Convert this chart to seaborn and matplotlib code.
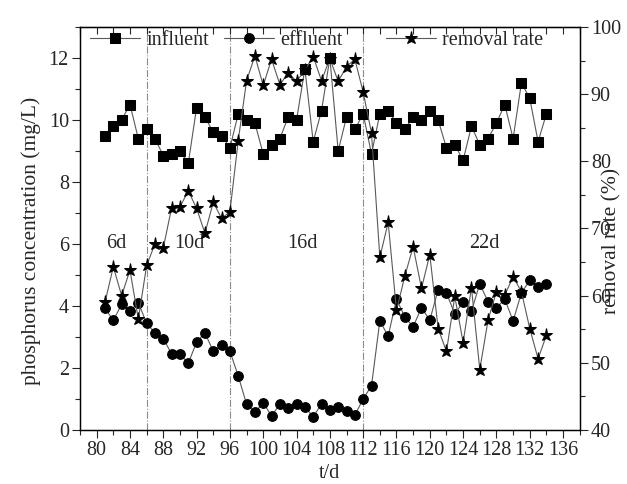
import numpy as np
import pandas as pd
import seaborn as sns
import matplotlib.pyplot as plt
from matplotlib.ticker import MultipleLocator

sns.set_style("ticks")
plt.rcParams['font.family'] = ['Liberation Serif', 'DejaVu Serif']
plt.rcParams['mathtext.fontset'] = 'stix'

# data, one point per day
day = list(range(81, 135))
influent = [9.5, 9.8, 10.0, 10.5, 9.4, 9.7, 9.4, 8.85, 8.9, 9.0,
            8.6, 10.4, 10.1, 9.6, 9.5, 9.1, 10.2, 10.0, 9.9, 8.9,
            9.2, 9.4, 10.1, 10.0, 11.65, 9.3, 10.3, 12.0, 9.0, 10.1,
            9.7, 10.2, 8.9, 10.2, 10.3, 9.9, 9.7, 10.1, 10.0, 10.3,
            10.0, 9.1, 9.2, 8.7, 9.8, 9.2, 9.4, 9.9, 10.5, 9.4,
            11.2, 10.7, 9.3, 10.2]
effluent = [3.92, 3.54, 4.05, 3.83, 4.11, 3.44, 3.13, 2.95, 2.45, 2.45,
            2.15, 2.84, 3.13, 2.54, 2.74, 2.54, 1.74, 0.83, 0.57, 0.88,
            0.45, 0.84, 0.72, 0.84, 0.74, 0.43, 0.84, 0.64, 0.75, 0.60,
            0.48, 1.00, 1.43, 3.52, 3.03, 4.22, 3.65, 3.33, 3.95, 3.54,
            4.53, 4.42, 3.74, 4.13, 3.83, 4.72, 4.13, 3.94, 4.22, 3.52,
            4.42, 4.83, 4.62, 4.72]
removal = [59.0, 64.3, 60.0, 63.8, 56.5, 64.5, 67.7, 67.1, 73.1, 73.2,
           75.6, 73.0, 69.3, 73.9, 71.5, 72.5, 83.1, 92.0, 95.7, 91.3,
           95.2, 91.4, 93.2, 91.9, 93.6, 95.6, 92.0, 95.3, 91.9, 94.1,
           95.2, 90.3, 84.2, 65.7, 70.9, 57.8, 62.9, 67.3, 61.1, 66.1,
           55.1, 51.7, 59.9, 53.0, 61.2, 49.0, 56.4, 60.6, 60.1, 62.8,
           60.6, 55.1, 50.6, 54.1]

phase_bounds = [86, 96, 112]
phase_labels = ["6d", "10d", "16d", "22d"]
phase_label_x = [82.4, 91.1, 104.7, 126.6]

df = pd.DataFrame({"day": day, "influent": influent,
                   "effluent": effluent, "removal": removal})

fs = 14.5
lfs = 15.5
fig = plt.figure(figsize=(6.27, 4.84), dpi=100)
ax = fig.add_axes([0.1276, 0.1116, 0.797, 0.8326])
ax2 = ax.twinx()

line_kw = dict(color='0.35', linewidth=0.8, markerfacecolor='black',
               markeredgecolor='black')
sns.lineplot(data=df, x="day", y="influent", marker='s', markersize=6.5,
             ax=ax, label="influent", **line_kw)
sns.lineplot(data=df, x="day", y="effluent", marker='o', markersize=7,
             ax=ax, label="effluent", **line_kw)
sns.lineplot(data=df, x="day", y="removal", marker='*', markersize=9.5,
             ax=ax2, label="removal rate", **line_kw)

for xb in phase_bounds:
    ax.axvline(xb, color='0.55', linestyle='-.', linewidth=0.8, zorder=0)

for lab, xl in zip(phase_labels, phase_label_x):
    ax.text(xl, 6.0, lab, fontsize=fs, ha='center', va='center')

ax.set_xlim(78, 138)
ax.set_ylim(0, 13)
ax2.set_ylim(40, 100)

ax.set_xticks(range(80, 137, 4))
ax.xaxis.set_minor_locator(MultipleLocator(2))
ax.set_yticks(range(0, 13, 2))
ax.yaxis.set_minor_locator(MultipleLocator(1))
ax2.set_yticks(range(40, 101, 10))
ax2.yaxis.set_minor_locator(MultipleLocator(5))

ax.tick_params(axis='both', which='major', direction='out', length=6,
               width=0.8, labelsize=fs, pad=2)
ax.tick_params(axis='both', which='minor', direction='out', length=3.5,
               width=0.8)
ax2.tick_params(axis='y', which='major', direction='out', length=6,
                width=0.8, labelsize=fs, pad=2)
ax2.tick_params(axis='y', which='minor', direction='out', length=3.5,
                width=0.8)

top = ax.secondary_xaxis('top')
top.set_xticks(range(78, 139, 2))
top.tick_params(direction='in', length=5, width=0.8, labeltop=False)

for a in (ax, ax2):
    for s in a.spines.values():
        s.set_linewidth(0.9)
        s.set_color('black')

ax.set_xlabel("t/d", fontsize=fs, labelpad=3)
ax.set_ylabel("phosphorus concentration (mg/L)", fontsize=lfs)
ax.yaxis.set_label_coords(-0.078, 0.47)
ax2.set_ylabel("removal rate (%)", fontsize=lfs)
ax2.yaxis.set_label_coords(1.046, 0.47)

if ax2.get_legend() is not None:
    ax2.get_legend().remove()
leg_kw = dict(loc='upper left', frameon=False, fontsize=fs, handlelength=2.5,
              handletextpad=0.3, borderpad=0, borderaxespad=0)
h1, l1 = ax.get_legend_handles_labels()
ax.legend(h1, l1, bbox_to_anchor=(0.02, 0.99), ncol=2, columnspacing=0.75,
          **leg_kw)
h2, l2 = ax2.get_legend_handles_labels()
ax2.legend(h2, l2, bbox_to_anchor=(0.612, 0.99), **leg_kw)

fig.savefig("out.png", dpi=100)
